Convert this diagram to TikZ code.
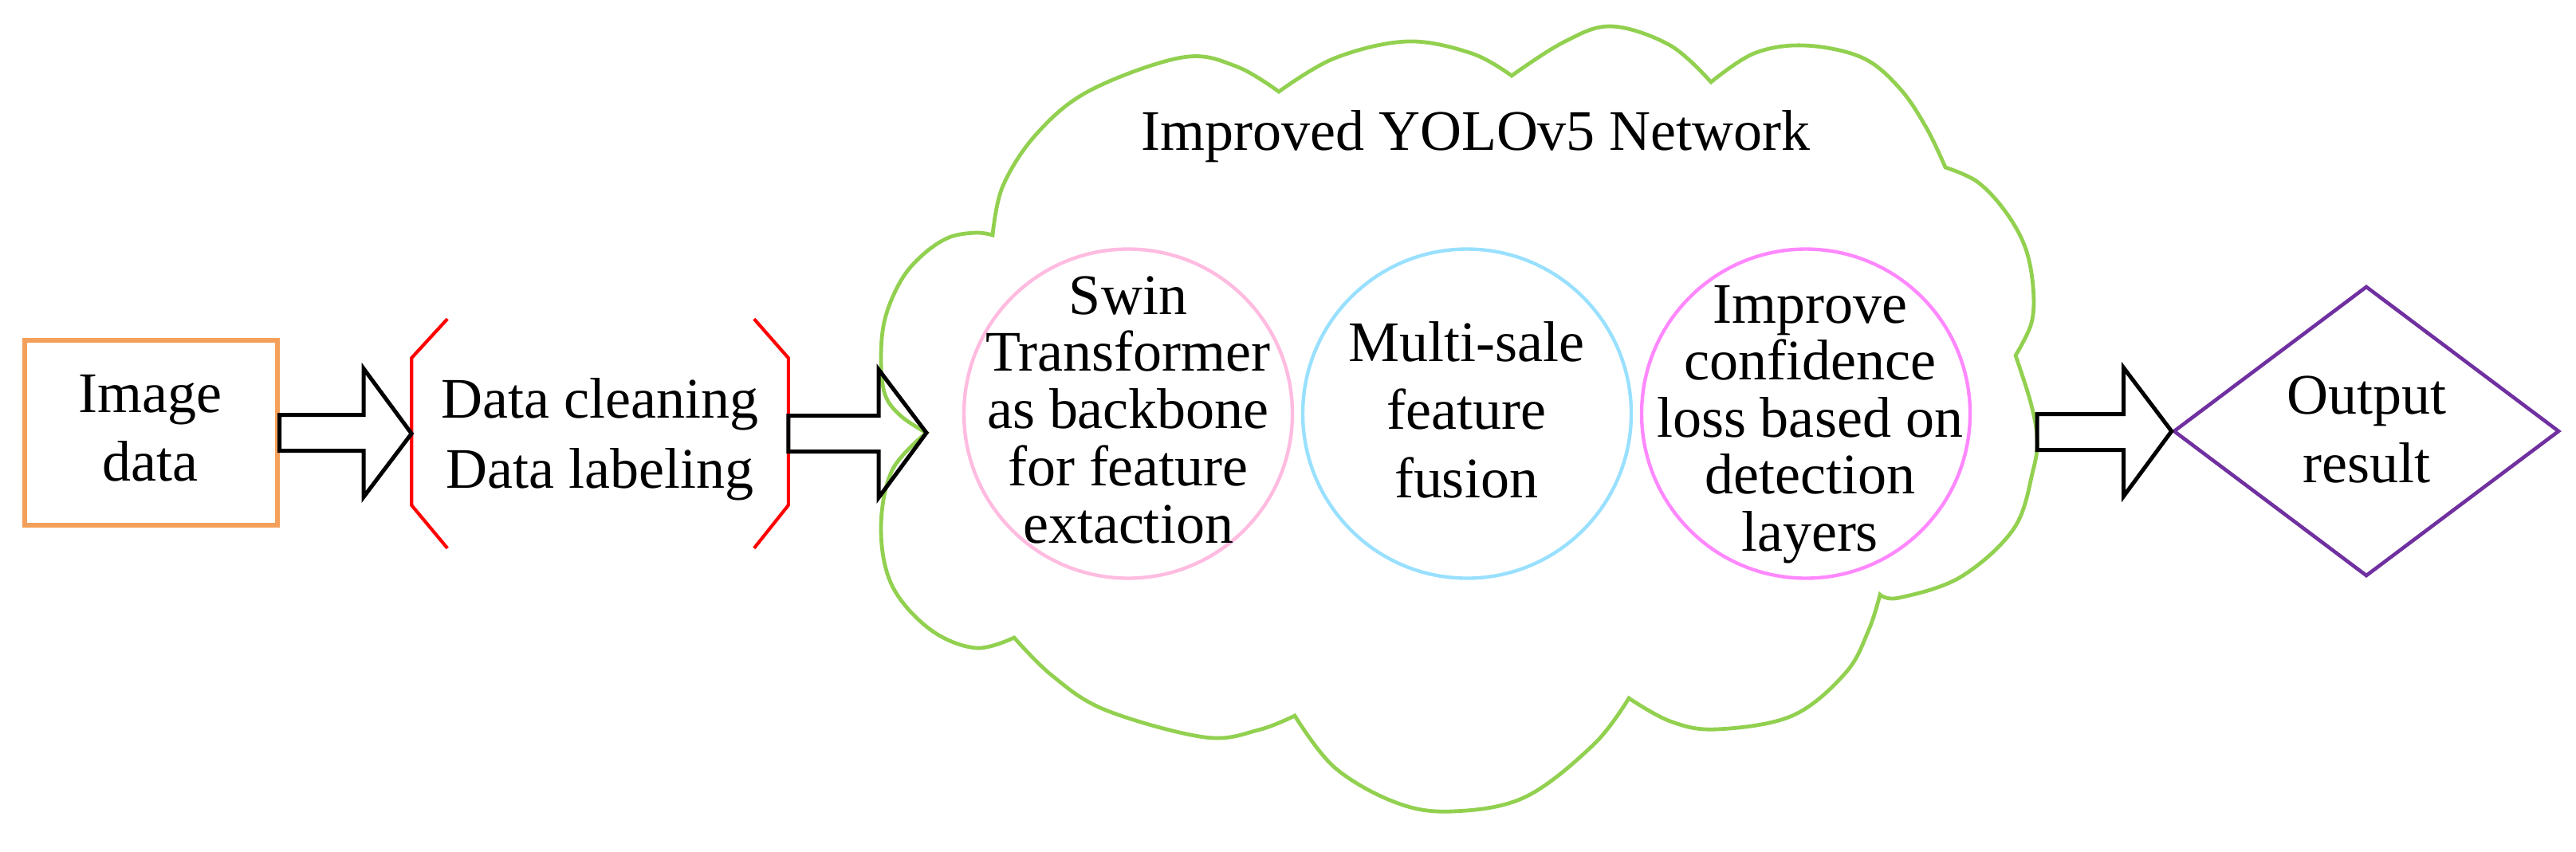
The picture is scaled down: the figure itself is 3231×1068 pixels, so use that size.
\documentclass[tikz,border=0pt]{standalone}
\usepackage{fontspec}
\setmainfont{Liberation Serif}
\usetikzlibrary{shapes.geometric,calc}
\definecolor{boxorange}{HTML}{F4A05A}
\definecolor{brkred}{HTML}{FF0000}
\definecolor{cloudgreen}{HTML}{92D050}
\definecolor{ovpink}{HTML}{FFBBE0}
\definecolor{ovblue}{HTML}{99E0FF}
\definecolor{ovmag}{HTML}{FF88FF}
\definecolor{dmpurple}{HTML}{7030A0}
\tikzset{
  txt/.style={font=\fontsize{17.28pt}{20.64pt}\selectfont, align=center, inner sep=0pt, anchor=base},
  txttight/.style={txt, font=\fontsize{17.28pt}{17.22pt}\selectfont},
  imgbox/.style={rectangle, draw=boxorange, line width=1.25pt, inner sep=0pt},
  brkbox/.style={rectangle, draw=none, inner sep=0pt},
  brkline/.style={draw=brkred, line width=1.0pt},
  cloudline/.style={draw=cloudgreen, line width=1.15pt, line join=miter},
  oval/.style={ellipse, line width=1.05pt, inner sep=0pt, minimum width=412*0.24pt, minimum height=413*0.24pt},
  outdiamond/.style={diamond, draw=dmpurple, line width=1.1pt, inner sep=0pt},
  blockarr/.style={draw=black, line width=1.2pt, line join=miter},
}
\newcommand\blockarrow[2]{%
  \draw[blockarr] let \p1=(#1), \p2=(#2) in
    (\x1,\y1+5.4pt) -- (\x2-14.4pt,\y1+5.4pt) -- (\x2-14.4pt,\y1+19.3pt)
    -- (\x2,\y2) -- (\x2-14.4pt,\y1-19.3pt) -- (\x2-14.4pt,\y1-5.4pt)
    -- (\x1,\y1-5.4pt) -- cycle;}
\begin{document}
\begin{tikzpicture}[x=0.24pt, y=-0.24pt]
\useasboundingbox (0,0) rectangle (3231,1068);

% cloud
\draw[cloudline]
  plot[smooth, tension=0.6] coordinates {(1245,295) (1258,233) (1301,167) (1368,113) (1483,72) (1550,83) (1604,115)}
  -- plot[smooth, tension=0.6] coordinates {(1604,115) (1674,73) (1765,52) (1846,67) (1896,95)}
  -- plot[smooth, tension=0.6] coordinates {(1896,95) (1961,53) (2021,33) (2095,57) (2146,103)}
  -- plot[smooth, tension=0.6] coordinates {(2146,103) (2200,67) (2263,57) (2335,72) (2382,110) (2416,160) (2440,210)}
  -- plot[smooth, tension=0.6] coordinates {(2440,210) (2480,228) (2515,265) (2540,310) (2550,360) (2548,405) (2528,446)}
  -- plot[smooth, tension=0.6] coordinates {(2528,446) (2547,505) (2555,550) (2550,590) (2526,663) (2459,724) (2382,750) (2358,746)}
  -- plot[smooth, tension=0.6] coordinates {(2358,746) (2344,790) (2315,844) (2248,898) (2153,915) (2095,905) (2043,876)}
  -- plot[smooth, tension=0.6] coordinates {(2043,876) (1999,934) (1913,1000) (1822,1018) (1751,1007) (1674,963) (1624,898)}
  -- plot[smooth, tension=0.6] coordinates {(1624,898) (1578,916) (1511,925) (1387,891) (1320,848) (1272,800)}
  -- plot[smooth, tension=0.6] coordinates {(1272,800) (1224,813) (1167,790) (1119,735) (1105,663) (1119,590) (1162,543)}
  -- plot[smooth, tension=0.6] coordinates {(1162,543) (1130,522) (1110,495) (1105,450) (1110,400) (1130,352) (1157,320) (1190,298) (1224,292) (1245,295)}
  -- cycle;
\coordinate (cloudL) at (1162,543);
\coordinate (cloudR) at (2555,542);
\node[txt] (title) at (1851,188) {Improved YOLOv5 Network};

% image data
\node[imgbox, minimum width=317*0.24pt, minimum height=232*0.24pt] (img) at (189.5,543) {};
\node[txt] (imgt) at (188,603) {Image\\data};

% data cleaning bracket
\node[brkbox, minimum width=471*0.24pt, minimum height=286*0.24pt] (brk) at (752.5,544) {};
\draw[brkline] ($(brk.north west)+(45,0)$) -- ($(brk.north west)+(0,49)$)
  -- ($(brk.south west)+(0,-54)$) -- ($(brk.south west)+(45,0)$);
\draw[brkline] ($(brk.north east)+(-43,0)$) -- ($(brk.north east)+(0,49)$)
  -- ($(brk.south east)+(0,-54)$) -- ($(brk.south east)+(-43,0)$);
\node[txt, font=\fontsize{17.28pt}{20.9pt}\selectfont] (clean) at (752.5,612) {Data cleaning\\Data labeling};

% ovals
\node[oval, draw=ovpink] (swin) at (1415,519) {};
\node[txttight] (swint) at (1415,681) {Swin\\Transformer\\as backbone\\for feature\\extaction};
\node[oval, draw=ovblue] (fuse) at (1840,519) {};
\node[txt, font=\fontsize{17.28pt}{20.52pt}\selectfont] (fuset) at (1839,624) {Multi-sale\\feature\\fusion};
\node[oval, draw=ovmag] (conf) at (2265,519) {};
\node[txttight, font=\fontsize{17.28pt}{17.16pt}\selectfont] (conft) at (2270,691) {Improve\\confidence\\loss based on\\detection\\layers};

% output
\node[outdiamond, minimum width=484*0.24pt, minimum height=364*0.24pt] (out) at (2968,541) {};
\node[txt] (outt) at (2968.5,605) {Output\\result};

% arrows
\blockarrow{img.east}{brk.west}
\blockarrow{brk.east}{cloudL}
\blockarrow{cloudR}{out.west}
\end{tikzpicture}
\end{document}
